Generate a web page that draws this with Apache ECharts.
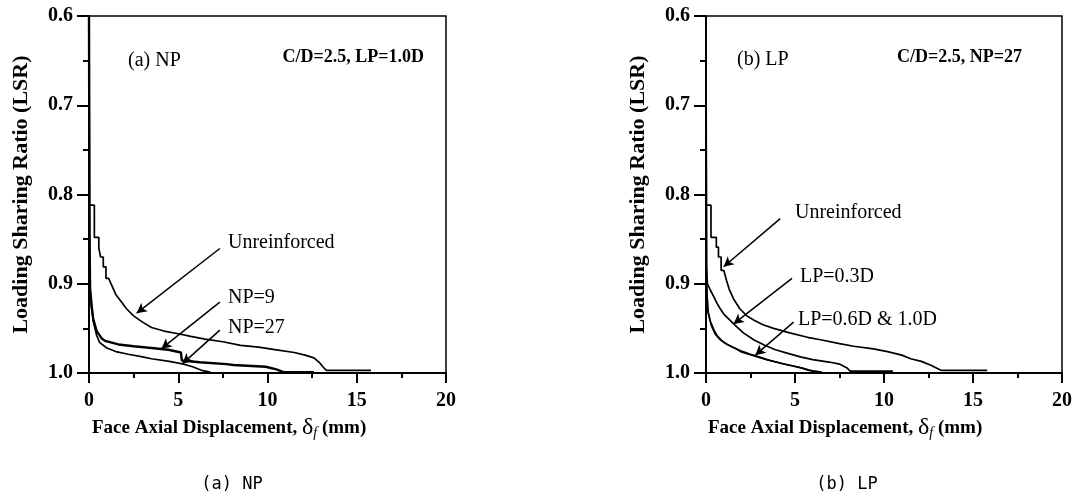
<!DOCTYPE html>
<html>
<head>
<meta charset="utf-8">
<script src="https://cdn.jsdelivr.net/npm/echarts@6/dist/echarts.min.js"></script>
<style>
  html, body { margin: 0; padding: 0; background: #fff; }
  #chart { width: 1081px; height: 495px; }
</style>
</head>
<body>
<div id="chart"></div>
<script>
// axis ranges / ticks
var xTicks = [0, 5, 10, 15, 20];
var yTicks = [0.6, 0.7, 0.8, 0.9, 1.0];

// (a) NP : [displacement mm, LSR]
var aUnreinforced = [[0, 0.6], [0, 0.812], [0.3, 0.812], [0.3, 0.848], [0.55, 0.848], [0.55, 0.86], [0.65, 0.86],
  [0.65, 0.87], [0.8, 0.87], [0.8, 0.881], [0.95, 0.881], [0.95, 0.894], [1.1, 0.894],
  [1.3, 0.903], [1.5, 0.912], [1.8, 0.92], [2.1, 0.928], [2.5, 0.936], [3.0, 0.943], [3.5, 0.949], [4.2, 0.953],
  [5.0, 0.956], [5.7, 0.959], [6.5, 0.962], [7.5, 0.965], [8.5, 0.969], [9.5, 0.971], [10.5, 0.974], [11.5, 0.977],
  [12.1, 0.98], [12.6, 0.983], [12.9, 0.988], [13.1, 0.993], [13.3, 0.997], [15.8, 0.997]];
var aNP9 = [[0, 0.6], [0.03, 0.85], [0.06, 0.905], [0.15, 0.925], [0.24, 0.94], [0.43, 0.953], [0.7, 0.961],
  [0.9, 0.964], [1.65, 0.968], [2.5, 0.97], [3.5, 0.972], [4.45, 0.974], [5.15, 0.977], [5.2, 0.986], [6.2, 0.988],
  [7.7, 0.99], [8.1, 0.991], [9.9, 0.993], [10.5, 0.996], [10.9, 0.999], [12.6, 0.999]];
var aNP27 = [[0, 0.6], [0.03, 0.86], [0.07, 0.91], [0.15, 0.928], [0.24, 0.942], [0.43, 0.958], [0.6, 0.966],
  [1.0, 0.972], [1.5, 0.976], [2.2, 0.979], [3.0, 0.982], [3.5, 0.984], [4.5, 0.987], [5.3, 0.99], [5.8, 0.993],
  [6.3, 0.997], [6.8, 0.999]];

// (b) LP
var bUnreinforced = [[0, 0.6], [0, 0.812], [0.28, 0.812], [0.28, 0.848], [0.58, 0.848], [0.58, 0.859], [0.7, 0.859],
  [0.7, 0.87], [0.85, 0.87], [0.85, 0.885], [1.0, 0.885],
  [1.15, 0.896], [1.3, 0.906], [1.55, 0.917], [1.9, 0.928], [2.3, 0.936], [2.7, 0.941], [3.2, 0.946], [3.8, 0.95],
  [4.7, 0.955], [5.7, 0.96], [6.5, 0.963], [7.5, 0.967], [8.3, 0.97], [9.4, 0.973], [10.2, 0.976], [11.0, 0.98],
  [11.5, 0.984], [12.1, 0.987], [12.6, 0.991], [13.2, 0.997], [15.8, 0.997]];
var bLP03 = [[0, 0.6], [0.02, 0.88], [0.08, 0.9], [0.24, 0.907], [0.45, 0.915], [0.62, 0.922], [0.8, 0.928],
  [1.0, 0.934], [1.3, 0.94], [1.55, 0.945], [2.1, 0.955], [2.7, 0.963], [3.3, 0.969], [3.9, 0.974], [4.6, 0.978],
  [5.3, 0.982], [6.0, 0.985], [7.0, 0.988], [7.5, 0.99], [7.9, 0.994], [8.1, 0.998], [10.5, 0.998]];
var bLP06 = [[0, 0.6], [0.03, 0.9], [0.1, 0.93], [0.24, 0.942], [0.45, 0.952], [0.62, 0.958], [0.9, 0.964],
  [1.2, 0.968], [1.6, 0.972], [1.95, 0.976], [2.4, 0.979], [2.9, 0.982], [3.4, 0.985], [4.0, 0.988], [4.6, 0.991],
  [5.3, 0.994], [5.8, 0.997], [6.5, 0.999]];
var bLP10 = [[0, 0.6], [0.03, 0.9], [0.12, 0.932], [0.3, 0.947], [0.5, 0.956], [0.75, 0.962], [1.1, 0.967],
  [1.5, 0.971], [1.95, 0.975], [2.5, 0.979], [3.0, 0.982], [3.6, 0.986], [4.2, 0.989], [4.9, 0.992], [5.5, 0.995],
  [6.0, 0.998], [6.3, 0.999]];

var serif = '"Liberation Serif", "Times New Roman", serif';

function xAxisOf(i) {
  return {
    gridIndex: i, type: 'value',
    min: xTicks[0], max: xTicks[xTicks.length - 1], interval: 5,
    axisLine: { onZero: false, lineStyle: { color: '#000', width: 2 } },
    axisTick: { length: 10, lineStyle: { color: '#000', width: 2 } },
    minorTick: { show: true, splitNumber: 2, length: 5, lineStyle: { color: '#000', width: 2 } },
    splitLine: { show: false },
    axisLabel: { color: '#000', fontFamily: serif, fontWeight: 'bold', fontSize: 20, margin: 18 }
  };
}

function yAxisOf(i) {
  return {
    gridIndex: i, type: 'value', inverse: true,
    min: yTicks[0], max: yTicks[yTicks.length - 1], interval: 0.1,
    name: 'Loading Sharing Ratio (LSR)', nameLocation: 'middle', nameGap: 57,
    nameTextStyle: { color: '#000', fontFamily: serif, fontWeight: 'bold', fontSize: 22 },
    axisLine: { lineStyle: { color: '#000', width: 2 } },
    axisTick: { length: 12, lineStyle: { color: '#000', width: 2 } },
    minorTick: { show: true, splitNumber: 2, length: 6, lineStyle: { color: '#000', width: 2 } },
    splitLine: { show: false },
    axisLabel: {
      color: '#000', fontFamily: serif, fontWeight: 'bold', fontSize: 20, margin: 16,
      formatter: function (v) { return v.toFixed(1); }
    }
  };
}

function line(data, i, w) {
  return {
    type: 'line', xAxisIndex: i, yAxisIndex: i, data: data,
    showSymbol: false, symbol: 'none',
    lineStyle: { color: '#000', width: w }
  };
}

// arrows drawn as markLines in data coords
function arrows(list) {
  return {
    silent: true, symbol: ['none', 'arrow'], symbolSize: [8, 10], animation: false,
    label: { show: false },
    lineStyle: { color: '#000', width: 1.5, type: 'solid' },
    data: list.map(function (a) { return [{ coord: a[0] }, { coord: a[1] }]; })
  };
}

function txt(x, y, s, opt) {
  opt = opt || {};
  return {
    type: 'text', x: x, y: y,
    style: {
      text: s, fill: '#000', textVerticalAlign: 'middle', textAlign: opt.align || 'left',
      font: (opt.bold ? 'bold ' : '') + (opt.size || 19) + 'px ' + (opt.family || serif)
    }
  };
}

function xTitle(x, y) {
  return {
    type: 'text', x: x, y: y,
    style: {
      text: '{b|Face Axial Displacement, }{d|δ}{s|f}{b| (mm)}',
      textVerticalAlign: 'middle',
      rich: {
        b: { fontFamily: serif, fontWeight: 'bold', fontSize: 19, fill: '#000' },
        d: { fontFamily: serif, fontSize: 24, fill: '#000' },
        s: { fontFamily: serif, fontStyle: 'italic', fontSize: 14, fill: '#000', padding: [10, 0, 0, 0] }
      }
    }
  };
}

var chart = echarts.init(document.getElementById('chart'));

var sa = line(aUnreinforced, 0, 1.7);
sa.markLine = arrows([
  [[7.33, 0.8605], [2.67, 0.933]],
  [[7.33, 0.9206], [4.06, 0.9727]],
  [[7.33, 0.952], [5.24, 0.9895]]
]);
var sb = line(bUnreinforced, 1, 1.7);
sb.markLine = arrows([
  [[4.17, 0.827], [0.99, 0.881]],
  [[4.83, 0.894], [1.55, 0.945]],
  [[4.92, 0.943], [2.77, 0.98]]
]);

chart.setOption({
  animation: false,
  grid: [
    { left: 89, top: 16, width: 357, height: 357, show: true, borderColor: '#000', borderWidth: 1.5 },
    { left: 706, top: 16, width: 356, height: 357, show: true, borderColor: '#000', borderWidth: 1.5 }
  ],
  xAxis: [xAxisOf(0), xAxisOf(1)],
  yAxis: [yAxisOf(0), yAxisOf(1)],
  series: [
    sa,
    line(aNP9, 0, 2.4),
    line(aNP27, 0, 1.7),
    sb,
    line(bLP03, 1, 1.7),
    line(bLP06, 1, 1.7),
    line(bLP10, 1, 1.5)
  ],
  graphic: [
    txt(128, 61, '(a) NP', { size: 20 }),
    txt(424, 57, 'C/D=2.5, LP=1.0D', { bold: true, size: 18, align: 'right' }),
    txt(228, 243, 'Unreinforced', { size: 20 }),
    txt(228, 298, 'NP=9', { size: 20 }),
    txt(228, 328, 'NP=27', { size: 20 }),
    txt(737, 60, '(b) LP', { size: 20 }),
    txt(1022, 57, 'C/D=2.5, NP=27', { bold: true, size: 18, align: 'right' }),
    txt(795, 213, 'Unreinforced', { size: 20 }),
    txt(800, 277, 'LP=0.3D', { size: 20 }),
    txt(798, 320, 'LP=0.6D & 1.0D', { size: 20 }),
    xTitle(92, 428),
    xTitle(708, 428),
    txt(232, 485, '(a) NP', { size: 17, family: '"DejaVu Sans Mono", monospace', align: 'center' }),
    txt(847, 485, '(b) LP', { size: 17, family: '"DejaVu Sans Mono", monospace', align: 'center' })
  ]
});
</script>
</body>
</html>
